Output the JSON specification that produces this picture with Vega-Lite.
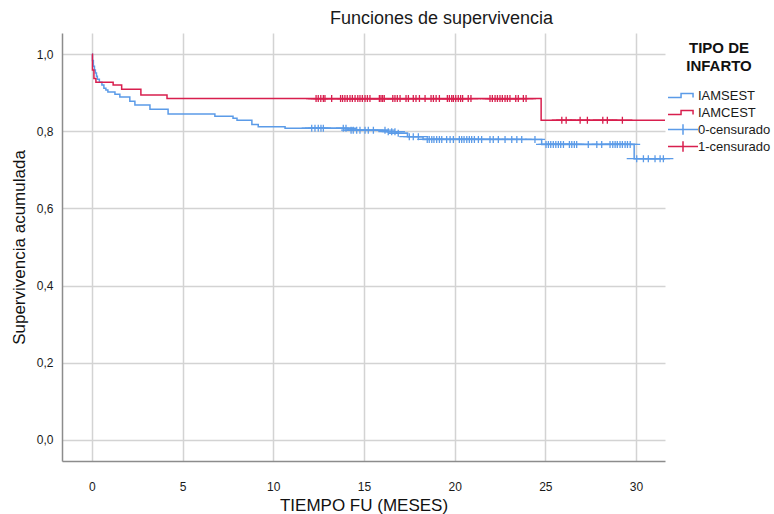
{
  "$schema": "https://vega.github.io/schema/vega-lite/v6.json",
  "width": 603,
  "height": 428,
  "autosize": {"type": "none"},
  "padding": {"left": 62, "top": 33, "right": 109, "bottom": 53},
  "background": "white",
  "title": {"text": "Funciones de supervivencia", "fontSize": 18, "fontWeight": "normal", "font": "Liberation Sans", "color": "#1a1a1a", "anchor": "middle", "frame": "group", "dx": 78, "dy": 21, "offset": 8, "baseline": "bottom"},
  "config": {
    "view": {"stroke": null},
    "font": "Liberation Sans",
    "axis": {"gridColor": "#d3d3d3", "gridWidth": 1.5, "domainColor": "#8c8c8c", "domainWidth": 1.5, "ticks": false, "labelColor": "#1a1a1a", "labelFontSize": 12, "titleColor": "#111111", "titleFontSize": 17, "titleFontWeight": "normal"}
  },
  "datasets": {
    "curves": [
      {"t": 0, "s": 1.0, "g": "IAMSEST"},
      {"t": 0.03, "s": 0.984, "g": "IAMSEST"},
      {"t": 0.08, "s": 0.969, "g": "IAMSEST"},
      {"t": 0.14, "s": 0.959, "g": "IAMSEST"},
      {"t": 0.19, "s": 0.951, "g": "IAMSEST"},
      {"t": 0.25, "s": 0.943, "g": "IAMSEST"},
      {"t": 0.30, "s": 0.935, "g": "IAMSEST"},
      {"t": 0.41, "s": 0.927, "g": "IAMSEST"},
      {"t": 0.55, "s": 0.920, "g": "IAMSEST"},
      {"t": 0.66, "s": 0.912, "g": "IAMSEST"},
      {"t": 0.77, "s": 0.907, "g": "IAMSEST"},
      {"t": 0.88, "s": 0.902, "g": "IAMSEST"},
      {"t": 1.27, "s": 0.896, "g": "IAMSEST"},
      {"t": 1.54, "s": 0.889, "g": "IAMSEST"},
      {"t": 2.09, "s": 0.878, "g": "IAMSEST"},
      {"t": 2.37, "s": 0.868, "g": "IAMSEST"},
      {"t": 3.2, "s": 0.857, "g": "IAMSEST"},
      {"t": 4.2, "s": 0.845, "g": "IAMSEST"},
      {"t": 6.78, "s": 0.839, "g": "IAMSEST"},
      {"t": 7.78, "s": 0.834, "g": "IAMSEST"},
      {"t": 8.0, "s": 0.829, "g": "IAMSEST"},
      {"t": 8.82, "s": 0.818, "g": "IAMSEST"},
      {"t": 9.17, "s": 0.812, "g": "IAMSEST"},
      {"t": 10.65, "s": 0.808, "g": "IAMSEST"},
      {"t": 14.12, "s": 0.803, "g": "IAMSEST"},
      {"t": 16.3, "s": 0.799, "g": "IAMSEST"},
      {"t": 16.8, "s": 0.795, "g": "IAMSEST"},
      {"t": 17.4, "s": 0.786, "g": "IAMSEST"},
      {"t": 18.26, "s": 0.779, "g": "IAMSEST"},
      {"t": 24.8, "s": 0.766, "g": "IAMSEST"},
      {"t": 29.9, "s": 0.729, "g": "IAMSEST"},
      {"t": 31.6, "s": 0.729, "g": "IAMSEST"},
      {"t": 0, "s": 1.0, "g": "IAMCEST"},
      {"t": 0.03, "s": 0.959, "g": "IAMCEST"},
      {"t": 0.11, "s": 0.937, "g": "IAMCEST"},
      {"t": 0.22, "s": 0.927, "g": "IAMCEST"},
      {"t": 1.17, "s": 0.920, "g": "IAMCEST"},
      {"t": 1.64, "s": 0.909, "g": "IAMCEST"},
      {"t": 2.70, "s": 0.894, "g": "IAMCEST"},
      {"t": 4.14, "s": 0.885, "g": "IAMCEST"},
      {"t": 24.77, "s": 0.829, "g": "IAMCEST"},
      {"t": 31.6, "s": 0.829, "g": "IAMCEST"}
    ],
    "censor": [
      {"t": 12.12, "s": 0.808, "g": "0-censurado"},
      {"t": 12.30, "s": 0.808, "g": "0-censurado"},
      {"t": 12.48, "s": 0.808, "g": "0-censurado"},
      {"t": 12.63, "s": 0.808, "g": "0-censurado"},
      {"t": 12.76, "s": 0.808, "g": "0-censurado"},
      {"t": 13.86, "s": 0.808, "g": "0-censurado"},
      {"t": 14.01, "s": 0.808, "g": "0-censurado"},
      {"t": 14.29, "s": 0.803, "g": "0-censurado"},
      {"t": 14.41, "s": 0.803, "g": "0-censurado"},
      {"t": 14.60, "s": 0.803, "g": "0-censurado"},
      {"t": 14.78, "s": 0.803, "g": "0-censurado"},
      {"t": 15.06, "s": 0.803, "g": "0-censurado"},
      {"t": 15.24, "s": 0.803, "g": "0-censurado"},
      {"t": 15.52, "s": 0.803, "g": "0-censurado"},
      {"t": 16.16, "s": 0.803, "g": "0-censurado"},
      {"t": 16.34, "s": 0.799, "g": "0-censurado"},
      {"t": 16.53, "s": 0.799, "g": "0-censurado"},
      {"t": 16.71, "s": 0.799, "g": "0-censurado"},
      {"t": 16.89, "s": 0.795, "g": "0-censurado"},
      {"t": 17.50, "s": 0.786, "g": "0-censurado"},
      {"t": 17.72, "s": 0.786, "g": "0-censurado"},
      {"t": 18.00, "s": 0.786, "g": "0-censurado"},
      {"t": 18.49, "s": 0.779, "g": "0-censurado"},
      {"t": 18.60, "s": 0.779, "g": "0-censurado"},
      {"t": 18.74, "s": 0.779, "g": "0-censurado"},
      {"t": 18.86, "s": 0.779, "g": "0-censurado"},
      {"t": 19.01, "s": 0.779, "g": "0-censurado"},
      {"t": 19.16, "s": 0.779, "g": "0-censurado"},
      {"t": 19.29, "s": 0.779, "g": "0-censurado"},
      {"t": 19.56, "s": 0.779, "g": "0-censurado"},
      {"t": 19.75, "s": 0.779, "g": "0-censurado"},
      {"t": 19.93, "s": 0.779, "g": "0-censurado"},
      {"t": 20.26, "s": 0.779, "g": "0-censurado"},
      {"t": 20.39, "s": 0.779, "g": "0-censurado"},
      {"t": 20.52, "s": 0.779, "g": "0-censurado"},
      {"t": 20.67, "s": 0.779, "g": "0-censurado"},
      {"t": 20.81, "s": 0.779, "g": "0-censurado"},
      {"t": 20.94, "s": 0.779, "g": "0-censurado"},
      {"t": 21.09, "s": 0.779, "g": "0-censurado"},
      {"t": 21.31, "s": 0.779, "g": "0-censurado"},
      {"t": 21.49, "s": 0.779, "g": "0-censurado"},
      {"t": 21.95, "s": 0.779, "g": "0-censurado"},
      {"t": 22.13, "s": 0.779, "g": "0-censurado"},
      {"t": 22.41, "s": 0.779, "g": "0-censurado"},
      {"t": 22.78, "s": 0.779, "g": "0-censurado"},
      {"t": 23.15, "s": 0.779, "g": "0-censurado"},
      {"t": 23.43, "s": 0.779, "g": "0-censurado"},
      {"t": 23.70, "s": 0.779, "g": "0-censurado"},
      {"t": 24.43, "s": 0.779, "g": "0-censurado"},
      {"t": 25.04, "s": 0.766, "g": "0-censurado"},
      {"t": 25.17, "s": 0.766, "g": "0-censurado"},
      {"t": 25.30, "s": 0.766, "g": "0-censurado"},
      {"t": 25.44, "s": 0.766, "g": "0-censurado"},
      {"t": 25.58, "s": 0.766, "g": "0-censurado"},
      {"t": 25.72, "s": 0.766, "g": "0-censurado"},
      {"t": 25.85, "s": 0.766, "g": "0-censurado"},
      {"t": 26.00, "s": 0.766, "g": "0-censurado"},
      {"t": 26.33, "s": 0.766, "g": "0-censurado"},
      {"t": 26.46, "s": 0.766, "g": "0-censurado"},
      {"t": 26.60, "s": 0.766, "g": "0-censurado"},
      {"t": 26.73, "s": 0.766, "g": "0-censurado"},
      {"t": 27.37, "s": 0.766, "g": "0-censurado"},
      {"t": 27.84, "s": 0.766, "g": "0-censurado"},
      {"t": 28.11, "s": 0.766, "g": "0-censurado"},
      {"t": 28.57, "s": 0.766, "g": "0-censurado"},
      {"t": 28.72, "s": 0.766, "g": "0-censurado"},
      {"t": 28.85, "s": 0.766, "g": "0-censurado"},
      {"t": 28.97, "s": 0.766, "g": "0-censurado"},
      {"t": 29.12, "s": 0.766, "g": "0-censurado"},
      {"t": 29.25, "s": 0.766, "g": "0-censurado"},
      {"t": 29.40, "s": 0.766, "g": "0-censurado"},
      {"t": 29.53, "s": 0.766, "g": "0-censurado"},
      {"t": 29.68, "s": 0.766, "g": "0-censurado"},
      {"t": 30.04, "s": 0.729, "g": "0-censurado"},
      {"t": 30.41, "s": 0.729, "g": "0-censurado"},
      {"t": 30.68, "s": 0.729, "g": "0-censurado"},
      {"t": 31.05, "s": 0.729, "g": "0-censurado"},
      {"t": 31.33, "s": 0.729, "g": "0-censurado"},
      {"t": 31.51, "s": 0.729, "g": "0-censurado"},
      {"t": 12.36, "s": 0.885, "g": "1-censurado"},
      {"t": 12.48, "s": 0.885, "g": "1-censurado"},
      {"t": 12.62, "s": 0.885, "g": "1-censurado"},
      {"t": 12.76, "s": 0.885, "g": "1-censurado"},
      {"t": 12.85, "s": 0.885, "g": "1-censurado"},
      {"t": 13.22, "s": 0.885, "g": "1-censurado"},
      {"t": 13.71, "s": 0.885, "g": "1-censurado"},
      {"t": 13.82, "s": 0.885, "g": "1-censurado"},
      {"t": 13.95, "s": 0.885, "g": "1-censurado"},
      {"t": 14.08, "s": 0.885, "g": "1-censurado"},
      {"t": 14.23, "s": 0.885, "g": "1-censurado"},
      {"t": 14.36, "s": 0.885, "g": "1-censurado"},
      {"t": 14.51, "s": 0.885, "g": "1-censurado"},
      {"t": 14.66, "s": 0.885, "g": "1-censurado"},
      {"t": 14.78, "s": 0.885, "g": "1-censurado"},
      {"t": 14.91, "s": 0.885, "g": "1-censurado"},
      {"t": 15.06, "s": 0.885, "g": "1-censurado"},
      {"t": 15.19, "s": 0.885, "g": "1-censurado"},
      {"t": 15.33, "s": 0.885, "g": "1-censurado"},
      {"t": 15.85, "s": 0.885, "g": "1-censurado"},
      {"t": 15.94, "s": 0.885, "g": "1-censurado"},
      {"t": 16.03, "s": 0.885, "g": "1-censurado"},
      {"t": 16.12, "s": 0.885, "g": "1-censurado"},
      {"t": 16.59, "s": 0.885, "g": "1-censurado"},
      {"t": 16.71, "s": 0.885, "g": "1-censurado"},
      {"t": 16.84, "s": 0.885, "g": "1-censurado"},
      {"t": 16.99, "s": 0.885, "g": "1-censurado"},
      {"t": 17.32, "s": 0.885, "g": "1-censurado"},
      {"t": 17.45, "s": 0.885, "g": "1-censurado"},
      {"t": 17.72, "s": 0.885, "g": "1-censurado"},
      {"t": 17.87, "s": 0.885, "g": "1-censurado"},
      {"t": 18.06, "s": 0.885, "g": "1-censurado"},
      {"t": 18.37, "s": 0.885, "g": "1-censurado"},
      {"t": 18.70, "s": 0.885, "g": "1-censurado"},
      {"t": 18.83, "s": 0.885, "g": "1-censurado"},
      {"t": 18.98, "s": 0.885, "g": "1-censurado"},
      {"t": 19.16, "s": 0.885, "g": "1-censurado"},
      {"t": 19.60, "s": 0.885, "g": "1-censurado"},
      {"t": 19.71, "s": 0.885, "g": "1-censurado"},
      {"t": 19.84, "s": 0.885, "g": "1-censurado"},
      {"t": 19.93, "s": 0.885, "g": "1-censurado"},
      {"t": 20.06, "s": 0.885, "g": "1-censurado"},
      {"t": 20.20, "s": 0.885, "g": "1-censurado"},
      {"t": 20.33, "s": 0.885, "g": "1-censurado"},
      {"t": 20.44, "s": 0.885, "g": "1-censurado"},
      {"t": 20.75, "s": 0.885, "g": "1-censurado"},
      {"t": 20.90, "s": 0.885, "g": "1-censurado"},
      {"t": 21.95, "s": 0.885, "g": "1-censurado"},
      {"t": 22.08, "s": 0.885, "g": "1-censurado"},
      {"t": 22.23, "s": 0.885, "g": "1-censurado"},
      {"t": 22.36, "s": 0.885, "g": "1-censurado"},
      {"t": 22.50, "s": 0.885, "g": "1-censurado"},
      {"t": 22.63, "s": 0.885, "g": "1-censurado"},
      {"t": 22.78, "s": 0.885, "g": "1-censurado"},
      {"t": 22.91, "s": 0.885, "g": "1-censurado"},
      {"t": 23.05, "s": 0.885, "g": "1-censurado"},
      {"t": 23.37, "s": 0.885, "g": "1-censurado"},
      {"t": 23.51, "s": 0.885, "g": "1-censurado"},
      {"t": 23.79, "s": 0.885, "g": "1-censurado"},
      {"t": 23.94, "s": 0.885, "g": "1-censurado"},
      {"t": 25.91, "s": 0.829, "g": "1-censurado"},
      {"t": 26.15, "s": 0.829, "g": "1-censurado"},
      {"t": 26.92, "s": 0.829, "g": "1-censurado"},
      {"t": 27.32, "s": 0.829, "g": "1-censurado"},
      {"t": 28.17, "s": 0.829, "g": "1-censurado"},
      {"t": 28.42, "s": 0.829, "g": "1-censurado"},
      {"t": 29.25, "s": 0.829, "g": "1-censurado"}
    ]
  },
  "encoding": {
    "x": {"field": "t", "type": "quantitative", "scale": {"domain": [-1.65, 31.6], "nice": false, "zero": false},
      "axis": {"values": [0, 5, 10, 15, 20, 25, 30], "format": "d", "title": "TIEMPO FU (MESES)", "grid": true, "labelPadding": 20, "titlePadding": 5}},
    "y": {"field": "s", "type": "quantitative", "scale": {"domain": [-0.055, 1.055], "nice": false, "zero": false},
      "axis": {"values": [0, 0.2, 0.4, 0.6, 0.8, 1.0], "labelExpr": "replace(format(datum.value, '.1f'), '.', ',')", "title": "Supervivencia acumulada", "grid": true, "labelPadding": 9, "titlePadding": 8}}
  },
  "layer": [
    {
      "data": {"name": "curves"},
      "mark": {"type": "line", "interpolate": "step-after", "strokeWidth": 1.5},
      "encoding": {
        "color": {"field": "g", "type": "nominal",
          "scale": {"domain": ["IAMSEST", "IAMCEST", "0-censurado", "1-censurado"], "range": ["#5b9be8", "#d81f4e", "#5b9be8", "#d81f4e"]},
          "legend": {"title": ["TIPO DE", "INFARTO"], "orient": "none", "legendX": 605, "legendY": 8, "padding": 0, "titleFontSize": 15, "titleFontWeight": "bold", "titleColor": "#111111", "titleAlign": "center", "titleAnchor": "middle", "titleLineHeight": 18, "titlePadding": 13, "labelFontSize": 13, "labelColor": "#1a1a1a", "symbolSize": 900, "symbolStrokeWidth": 1.5, "symbolFillColor": "transparent", "labelOffset": -1, "clipHeight": 17, "rowPadding": 0}}
      }
    },
    {
      "data": {"name": "censor"},
      "mark": {"type": "point", "filled": false, "size": 400, "strokeWidth": 1.3, "opacity": 1},
      "encoding": {
        "color": {"field": "g", "type": "nominal",
          "scale": {"domain": ["IAMSEST", "IAMCEST", "0-censurado", "1-censurado"], "range": ["#5b9be8", "#d81f4e", "#5b9be8", "#d81f4e"]},
          "legend": {"title": ["TIPO DE", "INFARTO"], "orient": "none", "legendX": 605, "legendY": 8, "padding": 0, "titleFontSize": 15, "titleFontWeight": "bold", "titleColor": "#111111", "titleAlign": "center", "titleAnchor": "middle", "titleLineHeight": 18, "titlePadding": 13, "labelFontSize": 13, "labelColor": "#1a1a1a", "symbolSize": 900, "symbolStrokeWidth": 1.5, "symbolFillColor": "transparent", "labelOffset": -1, "clipHeight": 17, "rowPadding": 0}},
        "shape": {"field": "g", "type": "nominal",
          "scale": {"domain": ["IAMSEST", "IAMCEST", "0-censurado", "1-censurado"], "range": ["M-1,0.13H-0.13V-0.13H0.67V0.13", "M-1,0.13H-0.13V-0.13H0.67V0.13", "M-1,0H1M0,-0.35V0.35", "M-1,0H1M0,-0.35V0.35"]},
          "legend": {"title": ["TIPO DE", "INFARTO"], "orient": "none", "legendX": 605, "legendY": 8, "padding": 0, "titleFontSize": 15, "titleFontWeight": "bold", "titleColor": "#111111", "titleAlign": "center", "titleAnchor": "middle", "titleLineHeight": 18, "titlePadding": 13, "labelFontSize": 13, "labelColor": "#1a1a1a", "symbolSize": 900, "symbolStrokeWidth": 1.5, "symbolFillColor": "transparent", "labelOffset": -1, "clipHeight": 17, "rowPadding": 0}}
      }
    }
  ]
}
